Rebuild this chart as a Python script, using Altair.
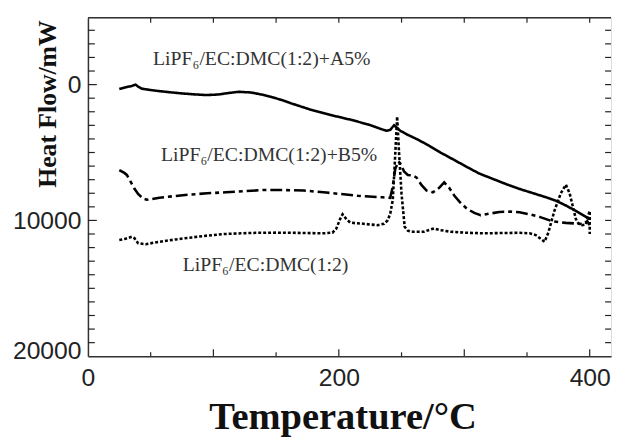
import altair as alt
import pandas as pd

# ---- data ----
a_T = [25, 30, 35, 38, 40, 43, 50, 57, 65, 75, 85, 94, 104, 112, 120, 130, 140, 146, 155, 162,
       170, 178, 186, 193, 200, 210, 224, 233, 238, 241, 244, 246, 249, 255, 263, 272, 281, 292,
       302, 312, 323, 334, 344, 355, 365, 373, 381, 390, 400]
a_H = [330, 200, 100, 0, 150, 300, 400, 480, 560, 650, 720, 770, 730, 620, 530, 580, 760, 900, 1150, 1380,
       1620, 1860, 2050, 2230, 2380, 2600, 2950, 3250, 3400, 3330, 3000, 3150, 3400, 3700, 4050, 4500, 5000, 5550,
       6060, 6550, 6950, 7350, 7680, 8000, 8290, 8550, 8900, 9350, 9900]

b_T = [25, 29, 31, 34, 37, 40, 44, 47, 57, 70, 80, 95, 110, 125, 140, 155, 172, 190, 200, 215,
       224, 235, 241, 243, 245, 247.5, 249, 252, 255, 259, 262, 266, 270, 275, 280, 284, 288, 292,
       297, 302, 308, 313, 320, 328, 337, 344, 352, 360, 370, 381, 390, 395, 398, 400]
b_H = [6300, 6500, 6650, 7150, 7650, 8050, 8400, 8480, 8330, 8200, 8110, 8000, 7930, 7850, 7760, 7760, 7800, 7950, 8040, 8180,
       8240, 8300, 8340, 7500, 6200, 5650, 5800, 6400, 6650, 6700, 6850, 7400, 7800, 7930, 7600, 7200, 7600, 8170,
       8700, 9130, 9450, 9620, 9500, 9380, 9350, 9400, 9550, 9740, 10060, 10180, 10230, 10280, 10050, 10350]

c_T = [25, 30, 35, 37, 40, 46, 57, 70, 83, 95, 109, 122, 135, 150, 162, 175, 188, 195, 198, 201,
       203, 206, 209, 213, 218, 225, 231, 236, 239, 241, 243, 244.5, 246.5, 248, 250, 252.5, 255, 258,
       263, 268, 272, 276, 280, 289, 300, 315, 330, 344, 352, 357, 361, 364, 367, 372, 377, 381,
       384, 386, 389, 391, 394, 397, 399, 400, 400]
c_H = [11440, 11350, 11200, 11300, 11680, 11750, 11570, 11400, 11250, 11120, 11000, 10950, 10910, 10900, 10910, 10930, 10950, 10900, 10600, 9900,
       9550, 9900, 10150, 10200, 10230, 10300, 10350, 10250, 9990, 9500, 8500, 6000, 2350, 5000, 8050, 10470, 10750, 10840,
       10840, 10830, 10700, 10590, 10700, 10830, 10900, 10950, 10930, 10910, 10950, 11080, 11350, 11570, 10900, 9260, 8000, 7370,
       8000, 8770, 9900, 10230, 10350, 10300, 9600, 9300, 11000]

series_names = ["A5%", "B5%", "base"]

label_text = ["LiPF\u2086/EC:DMC(1:2)+A5%", "LiPF\u2086/EC:DMC(1:2)+B5%", "LiPF\u2086/EC:DMC(1:2)"]
label_T = [51.9, 58.2, 75.5]
label_H = [-1433, 5622, 13745]

x_label_values = [0, 200, 400]
y_label_values = [0, 10000, 20000]
x_major_ticks = [100, 200, 300, 400]
x_minor_ticks = [50, 150, 250, 350]
x_top_ticks = [50, 100, 150, 200, 250, 300, 350, 400]
y_major_ticks = [0, 10000]
y_minor_ticks = [-4000, -3000, -2000, -1000, 1000, 2000, 3000, 4000, 5000, 6000, 7000, 8000, 9000,
                 11000, 12000, 13000, 14000, 15000, 16000, 17000, 18000, 19000]
y_right_ticks = y_minor_ticks + y_major_ticks

# ---- build tables ----
rows = []
for name, Ts, Hs in zip(series_names, [a_T, b_T, c_T], [a_H, b_H, c_H]):
    for i, (t, h) in enumerate(zip(Ts, Hs)):
        rows.append({"series": name, "T": t, "H": h, "idx": i})
lines_df = pd.DataFrame(rows)
labels_df = pd.DataFrame({"T": label_T, "H": label_H, "text": label_text})

W, H = 530, 343
xs = alt.Scale(domain=[0, 417], nice=False, zero=False)
ys = alt.Scale(domain=[-4925, 20000], reverse=True, nice=False, zero=False)

AX = "#333333"

x_axis = alt.Axis(
    values=x_label_values, ticks=False, grid=False, domainColor=AX, domainWidth=1.5,
    labelFont="Liberation Sans", labelFontSize=25, labelColor="#222222", labelPadding=10,
    labelFlush=False, labelOverlap=False,
    title="Temperature/\u00b0C", titleFont="Liberation Serif", titleFontSize=39,
    titleFontWeight="bold", titleColor="#111111", titleX=258, titleY=73,
    titleAlign="center", titleBaseline="alphabetic")
y_axis = alt.Axis(
    values=y_label_values, ticks=False, grid=False, domainColor=AX, domainWidth=1.5,
    labelFont="Liberation Sans", labelFontSize=25, labelColor="#222222", labelPadding=7,
    labelFlush=True, labelFlushOffset=7, labelOverlap=False, format="d",
    title="Heat Flow/mW", titleFont="Liberation Serif", titleFontSize=26,
    titleFontWeight="bold", titleColor="#111111", titleX=-33, titleY=87,
    titleAngle=270, titleAlign="center", titleBaseline="alphabetic")

lines = alt.Chart(lines_df).mark_line(color="black", strokeWidth=2.6).encode(
    x=alt.X("T:Q", scale=xs, axis=x_axis),
    y=alt.Y("H:Q", scale=ys, axis=y_axis),
    strokeDash=alt.StrokeDash("series:N", scale=alt.Scale(domain=series_names,
                              range=[[1, 0], [12, 4, 4, 4], [3, 2]]), legend=None),
    detail="series:N",
    order="idx:Q",
)

top_line = alt.Chart(pd.DataFrame({"k": [0]})).mark_rule(color=AX, strokeWidth=1.5).encode(
    x=alt.value(0), x2=alt.value(W), y=alt.value(0))

def yticks(vals, x0, x1):
    return alt.Chart(pd.DataFrame({"v": vals})).mark_rule(color="#222222", strokeWidth=1.2).encode(
        y=alt.Y("v:Q", scale=ys, axis=y_axis), x=alt.value(x0), x2=alt.value(x1))

def xticks(vals, y0, y1):
    return alt.Chart(pd.DataFrame({"v": vals})).mark_rule(color="#222222", strokeWidth=1.2).encode(
        x=alt.X("v:Q", scale=xs, axis=x_axis), y=alt.value(y0), y2=alt.value(y1))

left_major = yticks(y_major_ticks, 0, 9)
left_minor = yticks(y_minor_ticks, 0, 7)
right_t = yticks(y_right_ticks, W - 6, W)
bot_major = xticks(x_major_ticks, H, H - 7)
bot_minor = xticks(x_minor_ticks, H, H - 4)
top_t = xticks(x_top_ticks, 0, 5)

labels = alt.Chart(labels_df).mark_text(
    align="left", baseline="alphabetic", font="Liberation Serif", fontSize=20, color="#333333"
).encode(
    x=alt.X("T:Q", scale=xs, axis=x_axis),
    y=alt.Y("H:Q", scale=ys, axis=y_axis),
    text="text:N",
)

chart = alt.layer(
    lines, top_line, left_major, left_minor, right_t, bot_major, bot_minor, top_t, labels
).properties(
    width=W, height=H,
    autosize=alt.AutoSizeParams(type="none"),
    padding={"left": 81, "top": 7, "right": 2, "bottom": 80},
).configure_view(stroke=None).configure(background="white")

chart.save("out.html", embed_options={"renderer": "svg", "actions": False})
